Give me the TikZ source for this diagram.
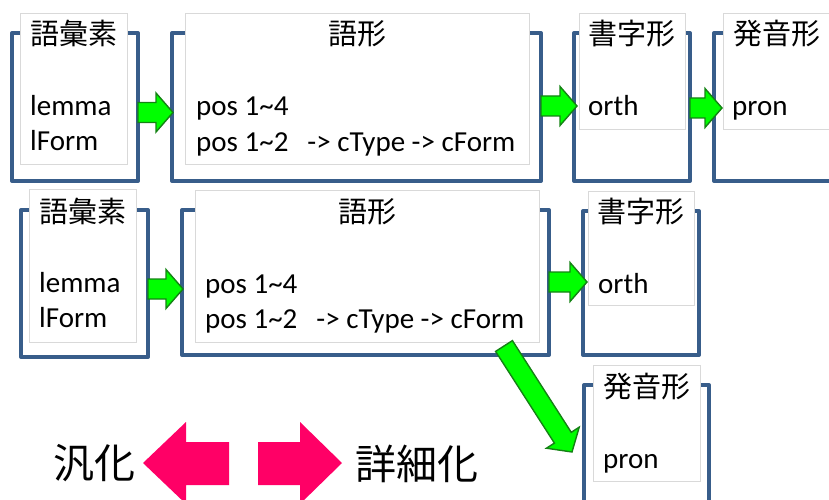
\documentclass[tikz,border=0pt]{standalone}
\usepackage{fontspec}
\setmainfont{Carlito}
\newfontfamily\cjk{Noto Sans CJK JP}
\usetikzlibrary{calc}
\definecolor{boxblue}{RGB}{56,93,138}
\definecolor{arrgreen}{RGB}{0,255,0}
\definecolor{arrgreenline}{RGB}{20,130,20}
\definecolor{pinkarr}{RGB}{255,0,102}
\definecolor{lightline}{RGB}{217,217,217}
\tikzset{
  outerbox/.style={draw=boxblue, line width=4pt, line join=round, inner sep=0pt, outer sep=0pt},
  innerbox/.style={draw=lightline, fill=white, line width=0.8pt, inner sep=0pt, outer sep=0pt},
  cjktitle/.style={inner sep=0pt, anchor=base, font=\cjk\fontsize{29}{32}\selectfont},
  bodytext/.style={inner sep=0pt, anchor=base west, font=\fontsize{29}{32}\selectfont},
  bigcjk/.style={inner sep=0pt, font=\cjk\fontsize{41}{44}\selectfont},
  garrow/.style={fill=arrgreen, draw=arrgreenline, line width=1.4pt, line join=miter},
  parrow/.style={fill=pinkarr, draw=none}
}
\newcommand\boxnode[6]{\node[#2, minimum width={#5-#3}, minimum height={#6-#4}] (#1) at ({(#3+#5)/2},{(#4+#6)/2}) {};}
\newcommand\blockarrow[2]{%
  \coordinate (ba-h) at ($(#2)!17pt!(#1)$);
  \filldraw[garrow] ($(#1)!10pt!90:(#2)$) -- ($(ba-h)!10pt!90:(#2)$) -- ($(ba-h)!19.5pt!90:(#2)$) -- (#2) -- ($(ba-h)!19.5pt!-90:(#2)$) -- ($(ba-h)!10pt!-90:(#2)$) -- ($(#1)!10pt!-90:(#2)$) -- cycle;}
\begin{document}
\begin{tikzpicture}[x=1pt,y=-1pt]
\useasboundingbox (0,0) rectangle (829,500);
\clip (0,0) rectangle (829,500);
% ---------- top row ----------
\boxnode{o1}{outerbox}{12}{33}{138}{181}
\boxnode{i1}{innerbox}{20}{13}{127}{164}
\boxnode{o2}{outerbox}{172}{33}{541}{181}
\boxnode{i2}{innerbox}{185}{13}{529}{164}
\boxnode{o3}{outerbox}{574}{33}{690}{181}
\boxnode{i3}{innerbox}{579}{13}{685}{129}
\boxnode{o4}{outerbox}{714}{33}{880}{181}
\boxnode{i4}{innerbox}{723}{13}{870}{129}
\node[cjktitle] (t1) at (73.5,45) {語彙素};
\node[bodytext] (l1) at (30,115) {lemma};
\node[bodytext] (f1) at (30,150) {lForm};
\node[cjktitle] (t2) at (357,45) {語形};
\node[bodytext] (p1) at (196,116) {pos 1\textasciitilde 4};
\node[bodytext] (q1) at (196,151) {pos 1\textasciitilde 2\hspace{19pt}-> cType -> cForm};
\node[cjktitle] (t3) at (632,45) {書字形};
\node[bodytext] (r1) at (588,115) {orth};
\node[cjktitle] (t4) at (777,45) {発音形};
\node[bodytext] (n1) at (732,115) {pron};
% ---------- bottom row ----------
\boxnode{o5}{outerbox}{21}{210}{148}{357}
\boxnode{i5}{innerbox}{29}{189}{136}{342}
\boxnode{o6}{outerbox}{182}{210}{549}{355}
\boxnode{i6}{innerbox}{195}{190}{539}{342}
\boxnode{o7}{outerbox}{583}{211}{699}{355}
\boxnode{i7}{innerbox}{588}{191}{694}{305}
\boxnode{o8}{outerbox}{584}{385}{709}{540}
\boxnode{i8}{innerbox}{593}{365}{700}{481}
\node[cjktitle] (t5) at (82.5,222) {語彙素};
\node[bodytext] (l5) at (39,292) {lemma};
\node[bodytext] (f5) at (39,327) {lForm};
\node[cjktitle] (t6) at (367,222) {語形};
\node[bodytext] (p6) at (205,293) {pos 1\textasciitilde 4};
\node[bodytext] (q6) at (205,328) {pos 1\textasciitilde 2\hspace{19pt}-> cType -> cForm};
\node[cjktitle] (t7) at (641,222) {書字形};
\node[bodytext] (r7) at (598,293) {orth};
\node[cjktitle] (t8) at (646.5,397) {発音形};
\node[bodytext] (n8) at (603,468) {pron};
% ---------- green arrows ----------
\coordinate (a1s) at (138,112.5);
\coordinate (a1e) at (173,112.5);
\coordinate (a2s) at (541,106);
\coordinate (a2e) at (577,106);
\coordinate (a3s) at (690,108);
\coordinate (a3e) at (722,108);
\coordinate (a4s) at (148,289);
\coordinate (a4e) at (183,289);
\coordinate (a5s) at (549,282);
\coordinate (a5e) at (587,282);
\coordinate (d1s) at ($(o6.south east)+(-45,-9)$);
\coordinate (d1e) at (572,452);
\blockarrow{a1s}{a1e}
\blockarrow{a2s}{a2e}
\blockarrow{a3s}{a3e}
\blockarrow{a4s}{a4e}
\blockarrow{a5s}{a5e}
\blockarrow{d1s}{d1e}
% ---------- bottom legend ----------
\fill[parrow] (143,463) -- (186,422) -- (186,442) -- (229,442) -- (229,485) -- (186,485) -- (186,504) -- cycle;
\fill[parrow] (342,463) -- (300,422) -- (300,442) -- (258,442) -- (258,485) -- (300,485) -- (300,504) -- cycle;
\node[bigcjk] (gen) at (94,463.5) {汎化};
\node[bigcjk] (spec) at (417,463.5) {詳細化};
\end{tikzpicture}
\end{document}
